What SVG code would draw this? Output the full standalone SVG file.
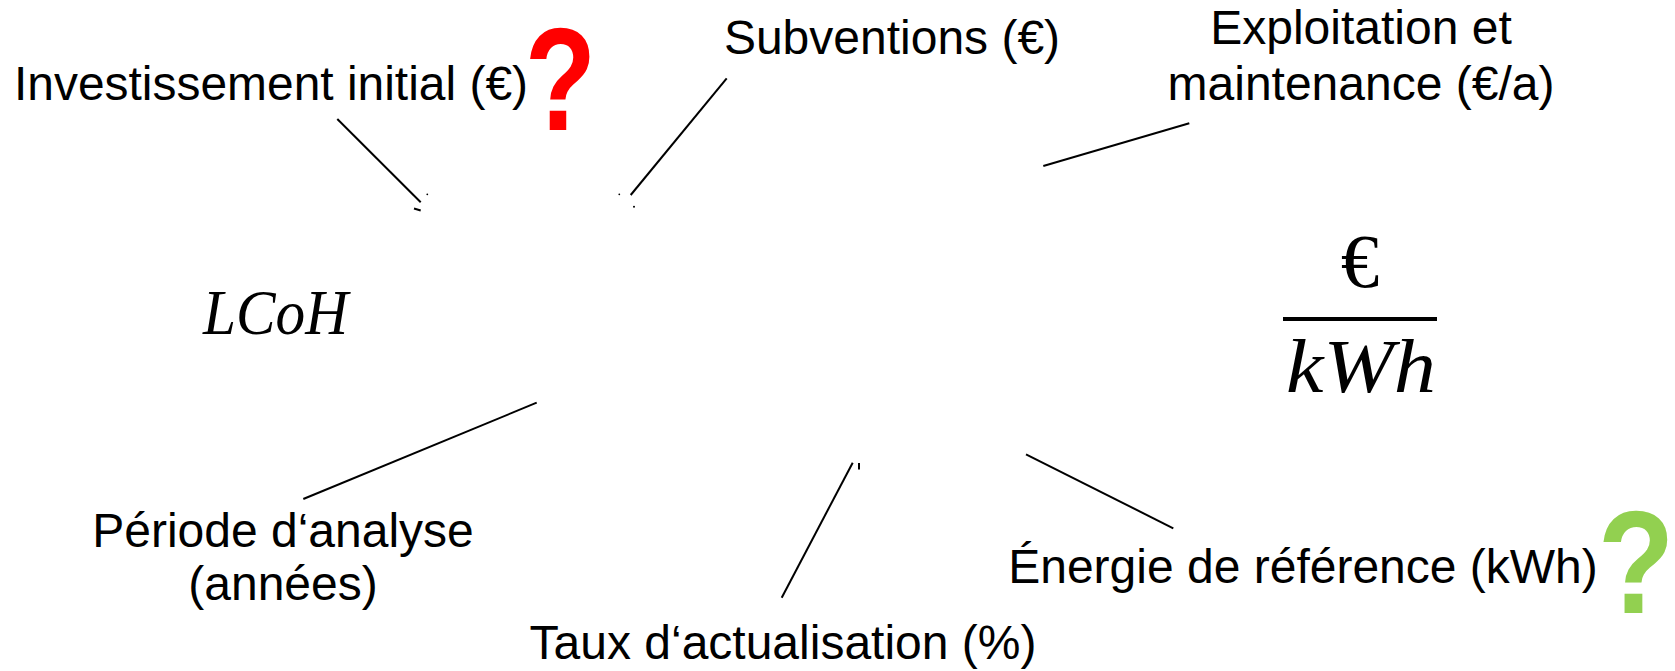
<svg xmlns="http://www.w3.org/2000/svg" width="1675" height="671" viewBox="0 0 1675 671">
<style>
.lbl{font-family:"Liberation Sans",Arial,sans-serif;font-size:48px;fill:#000;text-anchor:middle}
.math{font-family:"Liberation Serif","Times New Roman",serif;fill:#000;text-anchor:middle}
.q{font-family:"Liberation Sans",Arial,sans-serif;font-weight:bold;font-size:146px;text-anchor:middle}
.conn line{stroke:#000;stroke-width:2;stroke-linecap:butt}
.conn circle{fill:#000}
</style>
<rect width="1675" height="671" fill="#fff"/>
<g id="connectors" class="conn">
<line x1="337.3" y1="119" x2="420.7" y2="202.3"/>
<line x1="414" y1="208.5" x2="420.7" y2="210.5"/>
<circle cx="427.3" cy="194.3" r="0.9"/>
<line x1="726.7" y1="78.3" x2="630.7" y2="195"/>
<circle cx="619.3" cy="194.3" r="0.9"/>
<circle cx="634" cy="206.7" r="1"/>
<line x1="1189.3" y1="123.3" x2="1043.3" y2="166"/>
<line x1="536.7" y1="402.7" x2="303.3" y2="499"/>
<line x1="852.7" y1="462.7" x2="781.7" y2="597.7"/>
<line x1="859" y1="463" x2="859" y2="469.5"/>
<line x1="1026" y1="454.3" x2="1173.3" y2="528.3"/>
</g>
<g id="investissement">
<text class="lbl" x="271" y="100" textLength="514" lengthAdjust="spacingAndGlyphs">Investissement initial (€)</text>
<text class="q" fill="#FF0000" transform="translate(560.5,130) scale(0.8,1)" x="0" y="0">?</text>
</g>
<g id="subventions">
<text class="lbl" x="892" y="54">Subventions (€)</text>
</g>
<g id="exploitation">
<text class="lbl" x="1361" y="44">Exploitation et</text>
<text class="lbl" x="1361" y="100">maintenance (€/a)</text>
</g>
<g id="lcoh">
<text class="math" x="275.5" y="334" font-size="64" font-style="italic" textLength="145" lengthAdjust="spacingAndGlyphs">LCoH</text>
</g>
<g id="unit">
<text class="math" x="1360" y="287" font-size="77">€</text>
<rect x="1283" y="317" width="154" height="4" fill="#000"/>
<text class="math" x="1361" y="392" font-size="76" font-style="italic" textLength="150" lengthAdjust="spacingAndGlyphs">kWh</text>
</g>
<g id="periode">
<text class="lbl" x="283" y="547">Période d‘analyse</text>
<text class="lbl" x="283" y="600">(années)</text>
</g>
<g id="taux">
<text class="lbl" x="783" y="659">Taux d‘actualisation (%)</text>
</g>
<g id="energie">
<text class="lbl" x="1303" y="583">Énergie de référence (kWh)</text>
<text class="q" fill="#92D050" transform="translate(1636,613) scale(0.86,1)" x="0" y="0">?</text>
</g>
</svg>
